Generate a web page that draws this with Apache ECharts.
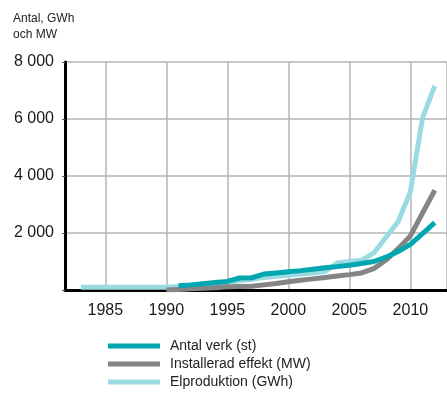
<!DOCTYPE html>
<html>
<head>
<meta charset="utf-8">
<script src="https://cdn.jsdelivr.net/npm/echarts@6/dist/echarts.min.js"></script>
<style>
  html, body { margin: 0; padding: 0; background: #fff; }
  #chart { width: 447px; height: 394px; }
</style>
</head>
<body>
<div id="chart"></div>
<script>
  // årtal och värden
  const elYears = [1983, 1984, 1985, 1986, 1987, 1988, 1989, 1990, 1991, 1992, 1993, 1994, 1995, 1996, 1997,
                   1998, 1999, 2000, 2001, 2002, 2003, 2004, 2005, 2006, 2007, 2008, 2009, 2010, 2011, 2012]
  const elproduktion = [100, 100, 100, 100, 100, 100, 100, 100, 120, 150, 180, 220, 260, 320, 380,
                        440, 480, 520, 560, 600, 650, 950, 1000, 1040, 1300, 1850, 2400, 3450, 6050, 7160]
  const effYears = [1990, 1991, 1992, 1993, 1994, 1995, 1996, 1997, 1998, 1999, 2000,
                    2001, 2002, 2003, 2004, 2005, 2006, 2007, 2008, 2009, 2010, 2011, 2012]
  const installerad = [0, 20, 40, 60, 80, 110, 120, 130, 180, 230, 290,
                       340, 390, 440, 490, 540, 600, 750, 1050, 1450, 1900, 2700, 3500]
  const antalYears = [1991, 1992, 1993, 1994, 1995, 1996, 1997, 1998, 1999, 2000, 2001,
                      2002, 2003, 2004, 2005, 2006, 2007, 2008, 2009, 2010, 2011, 2012]
  const antalVerk = [150, 180, 220, 260, 300, 420, 430, 560, 600, 640, 680,
                     730, 780, 820, 870, 930, 1000, 1150, 1350, 1600, 1980, 2360]
  const seriesNames = ['Antal verk (st)', 'Installerad effekt (MW)', 'Elproduktion (GWh)']
  const seriesColors = ['#00a7b0', '#858585', '#9adbe1']

  function pairs(xs, ys) {
    return xs.map((x, i) => [x, ys[i]])
  }

  const mychart = echarts.init(document.getElementById('chart'))
  mychart.setOption({
    animation: false,
    title: {
      text: 'Antal, GWh\noch MW',
      left: 8,
      top: 6,
      textStyle: {
        fontFamily: 'Liberation Sans',
        fontSize: 12,
        fontWeight: 'normal',
        color: '#222',
        lineHeight: 16
      }
    },
    legend: {
      orient: 'vertical',
      left: 108,
      top: 339,
      height: 70,
      padding: 0,
      itemWidth: 52,
      itemHeight: 5,
      itemGap: 4,
      icon: 'rect',
      data: seriesNames,
      textStyle: {
        fontFamily: 'Liberation Sans',
        fontSize: 14,
        color: '#222',
        padding: [0, 0, 0, 5]
      }
    },
    grid: {
      left: 65,
      right: 0,
      top: 62,
      bottom: 104
    },
    xAxis: {
      type: 'value',
      min: 1981.7,
      max: 2013,
      axisLine: { show: true, lineStyle: { color: '#000', width: 3 } },
      axisTick: { show: false },
      axisLabel: {
        showMinLabel: false,
        showMaxLabel: false,
        margin: 13,
        fontFamily: 'Liberation Sans',
        fontSize: 16,
        color: '#1a1a1a',
        formatter: v => String(v)
      },
      splitLine: { show: true, lineStyle: { color: '#b4b4b4', width: 1.5 } }
    },
    yAxis: {
      type: 'value',
      min: 0,
      max: 8000,
      interval: 2000,
      axisLine: { show: true, lineStyle: { color: '#000', width: 3 } },
      axisTick: { show: true, length: 3, lineStyle: { color: '#555' } },
      axisLabel: {
        margin: 11,
        fontFamily: 'Liberation Sans',
        fontSize: 16,
        color: '#1a1a1a',
        formatter: v => v === 0 ? '' : String(v).replace(/\B(?=(\d{3})+(?!\d))/g, ' ')
      },
      splitLine: { show: true, lineStyle: { color: '#b4b4b4', width: 1.5 } }
    },
    series: [
      {
        name: seriesNames[2],
        type: 'line',
        data: pairs(elYears, elproduktion),
        symbol: 'none',
        color: seriesColors[2],
        lineStyle: { width: 5, color: seriesColors[2] },
        z: 2
      },
      {
        name: seriesNames[1],
        type: 'line',
        data: pairs(effYears, installerad),
        symbol: 'none',
        color: seriesColors[1],
        lineStyle: { width: 5, color: seriesColors[1] },
        z: 3
      },
      {
        name: seriesNames[0],
        type: 'line',
        data: pairs(antalYears, antalVerk),
        symbol: 'none',
        color: seriesColors[0],
        lineStyle: { width: 5, color: seriesColors[0] },
        z: 4
      }
    ]
  })
</script>
</body>
</html>
